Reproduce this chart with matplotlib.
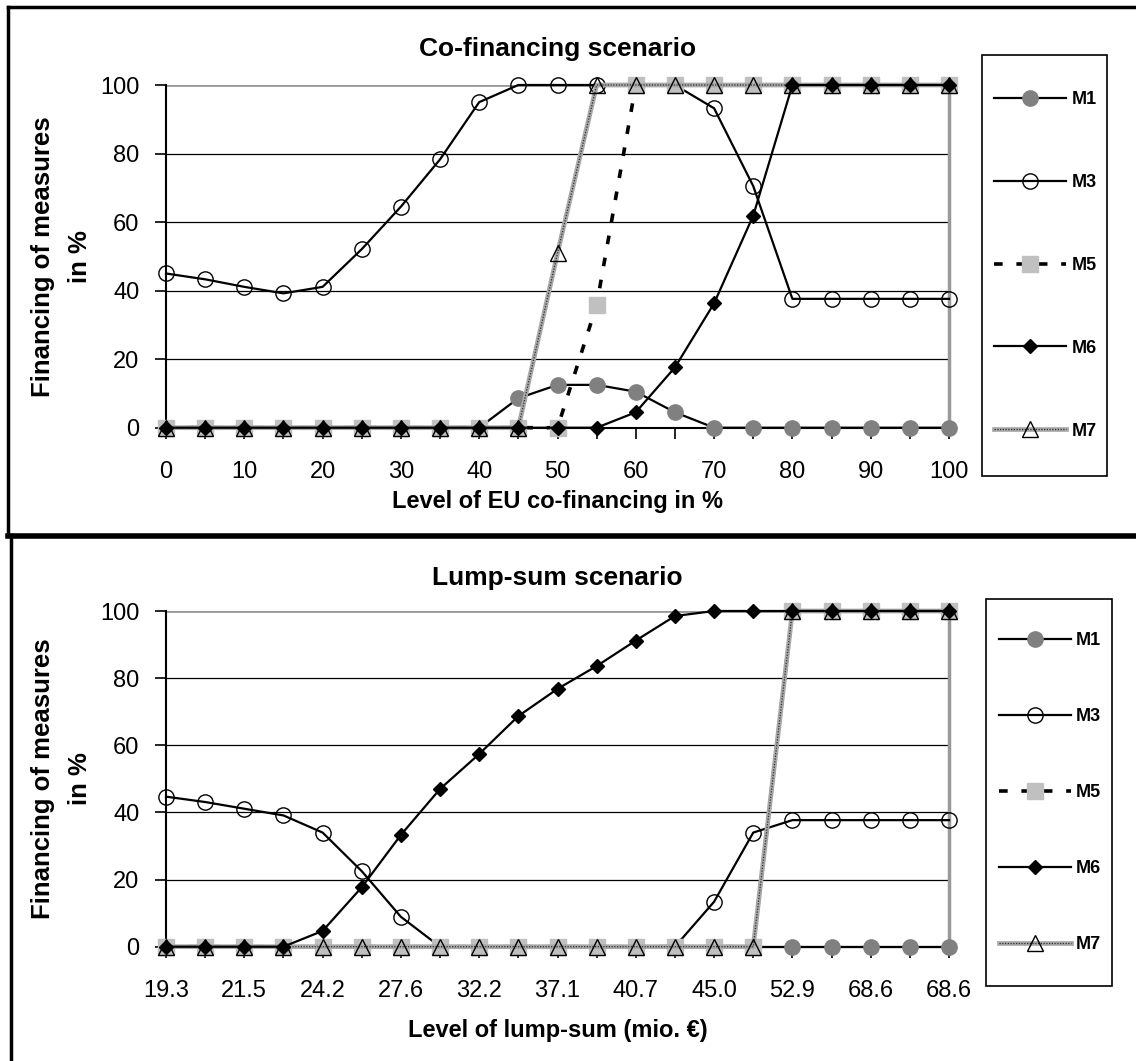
import numpy as np
import matplotlib.pyplot as plt
from matplotlib.patches import Rectangle
from matplotlib.lines import Line2D

plt.rcParams['font.family'] = ['Liberation Sans', 'DejaVu Sans']

# Top panel: level of EU co-financing (categories 0, 5, ..., 100)
cofin_levels = [0, 5, 10, 15, 20, 25, 30, 35, 40, 45, 50,
                55, 60, 65, 70, 75, 80, 85, 90, 95, 100]
cofin_ticklabels = ['0', '10', '20', '30', '40', '50', '60', '70', '80', '90', '100']
cofin_m1 = [0, 0, 0, 0, 0, 0, 0, 0, 0, 8.6, 12.5, 12.5, 10.5, 4.5, 0, 0, 0, 0, 0, 0, 0]
cofin_m3 = [45, 43.3, 41.1, 39.2, 41.1, 52.1, 64.5, 78.3, 95.0, 100, 100,
            100, 100, 100, 93.2, 70.5, 37.6, 37.6, 37.6, 37.6, 37.6]
cofin_m5 = [0, 0, 0, 0, 0, 0, 0, 0, 0, 0, 0, 35.8, 100, 100, 100, 100, 100, 100, 100, 100, 100]
cofin_m6 = [0, 0, 0, 0, 0, 0, 0, 0, 0, 0, 0, 0, 4.5, 17.6, 36.3, 61.9, 100, 100, 100, 100, 100]
cofin_m7 = [0, 0, 0, 0, 0, 0, 0, 0, 0, 0, 50.9, 100, 100, 100, 100, 100, 100, 100, 100, 100, 100]

# Bottom panel: level of lump-sum (21 categories, every 2nd one labelled)
lump_ticklabels = ['19.3', '21.5', '24.2', '27.6', '32.2', '37.1',
                   '40.7', '45.0', '52.9', '68.6', '68.6']
lump_m1 = [0] * 21
lump_m3 = [44.7, 43.1, 41.1, 39.1, 34.0, 22.5, 8.9, 0, 0, 0, 0,
           0, 0, 0, 13.4, 34.0, 37.7, 37.7, 37.7, 37.7, 37.7]
lump_m5 = [0, 0, 0, 0, 0, 0, 0, 0, 0, 0, 0, 0, 0, 0, 0, 0, 100, 100, 100, 100, 100]
lump_m6 = [0, 0, 0, 0, 4.7, 17.7, 33.3, 47.0, 57.4, 68.7, 76.8,
           83.6, 91.2, 98.5, 100, 100, 100, 100, 100, 100, 100]
lump_m7 = [0, 0, 0, 0, 0, 0, 0, 0, 0, 0, 0, 0, 0, 0, 0, 0, 100, 100, 100, 100, 100]

W, H = 1136, 1061


def fx(px):
    return px / W


def fy(py):
    return 1 - py / H


def draw_panel(ax, series, ticklabels, title, xlabel, title_pad, xlabel_pad):
    m1, m3, m5, m6, m7 = series
    x = np.arange(len(m1))

    for v in [20, 40, 60, 80]:
        ax.axhline(v, color='black', lw=0.9, zorder=1)
    ax.axhline(100, color='#999999', lw=2, zorder=1)

    h1, = ax.plot(x, m1, color='black', lw=1.6, marker='o', ms=11,
                  mfc='#808080', mec='#808080', clip_on=False, zorder=3)
    h3, = ax.plot(x, m3, color='black', lw=1.6, marker='o', ms=11,
                  mfc='none', mec='black', mew=1.0, clip_on=False, zorder=3)
    h5, = ax.plot(x, m5, color='black', lw=2.6, dashes=(2.4, 3.8), marker='s', ms=11.5,
                  mfc='#c0c0c0', mec='#c0c0c0', clip_on=False, zorder=3)
    band, = ax.plot(x, m7, color='#a8a8a8', lw=3.4, clip_on=False, zorder=4)
    h7, = ax.plot(x, m7, color='#303030', lw=0.9, ls=(0, (1, 1.2)), marker='^', ms=12,
                  mfc='none', mec='black', mew=1.0, clip_on=False, zorder=4)
    h6, = ax.plot(x, m6, color='black', lw=1.6, marker='D', ms=7.5,
                  mfc='black', mec='black', clip_on=False, zorder=5)

    ax.set_xlim(0, len(m1) - 1)
    ax.set_ylim(0, 100)
    ax.set_yticks([0, 20, 40, 60, 80, 100])
    ax.set_xticks(x)
    labels = []
    for i in x:
        labels.append(ticklabels[i // 2] if i % 2 == 0 else '')
    ax.set_xticklabels(labels)

    ax.spines['top'].set_visible(False)
    ax.spines['right'].set_color('#999999')
    ax.spines['right'].set_linewidth(2.5)
    ax.spines['left'].set_linewidth(1.5)
    ax.spines['bottom'].set_linewidth(1.5)
    ax.tick_params(axis='y', direction='out', length=8, width=1.2, labelsize=17, pad=11)
    ax.tick_params(axis='x', direction='out', length=8, width=1.2, labelsize=17, pad=16)

    ax.set_title(title, fontsize=19, fontweight='bold', pad=title_pad)
    ax.set_xlabel(xlabel, fontsize=17, fontweight='bold', labelpad=xlabel_pad)
    ax.set_ylabel('Financing of measures\nin %', fontsize=18.5, fontweight='bold',
                  linespacing=1.65)
    ax.yaxis.set_label_coords(-0.095, 0.5)

    return [h1, h3, h5, h6, (band, h7)]


fig = plt.figure(figsize=(W / 100, H / 100), dpi=100)

ax_top = fig.add_axes([fx(166), fy(427.7), fx(949) - fx(166), (427.7 - 85) / H])
ax_bot = fig.add_axes([fx(166), fy(946.7), fx(949) - fx(166), (946.7 - 611) / H])

handles_top = draw_panel(ax_top, [cofin_m1, cofin_m3, cofin_m5, cofin_m6, cofin_m7],
                         cofin_ticklabels, 'Co-financing scenario',
                         'Level of EU co-financing in %', 21, 5)
handles_bot = draw_panel(ax_bot, [lump_m1, lump_m3, lump_m5, lump_m6, lump_m7],
                         lump_ticklabels, 'Lump-sum scenario',
                         'Level of lump-sum (mio. €)', 19, 12)

names = ['M1', 'M3', 'M5', 'M6', 'M7']

# legend frames
fig.patches.append(Rectangle((fx(982), fy(476)), fx(1107) - fx(982), (476 - 55) / H,
                             transform=fig.transFigure, fill=False, lw=1.2, ec='black'))
fig.patches.append(Rectangle((fx(986), fy(986)), fx(1112) - fx(986), (986 - 599) / H,
                             transform=fig.transFigure, fill=False, lw=1.2, ec='black'))

fig.legend(handles_top, names, loc='upper left', bbox_to_anchor=(fx(985), fy(82)),
           frameon=False, borderpad=0, handlelength=4.0, handletextpad=0.3,
           labelspacing=3.65, prop={'weight': 'bold', 'size': 13})
fig.legend(handles_bot, names, loc='upper left', bbox_to_anchor=(fx(989.5), fy(623)),
           frameon=False, borderpad=0, handlelength=4.0, handletextpad=0.3,
           labelspacing=3.27, prop={'weight': 'bold', 'size': 13})

# panel borders
fig.add_artist(Line2D([fx(8), 1], [fy(6.5), fy(6.5)], color='black', lw=2.5))
fig.add_artist(Line2D([fx(8), fx(8)], [fy(6.5), fy(535)], color='black', lw=2.5))
fig.add_artist(Line2D([fx(8), 1], [fy(535.5), fy(535.5)], color='black', lw=4))
fig.add_artist(Line2D([fx(10.5), fx(10.5)], [fy(535), 0], color='black', lw=2.5))

fig.savefig('out.png', dpi=100)
